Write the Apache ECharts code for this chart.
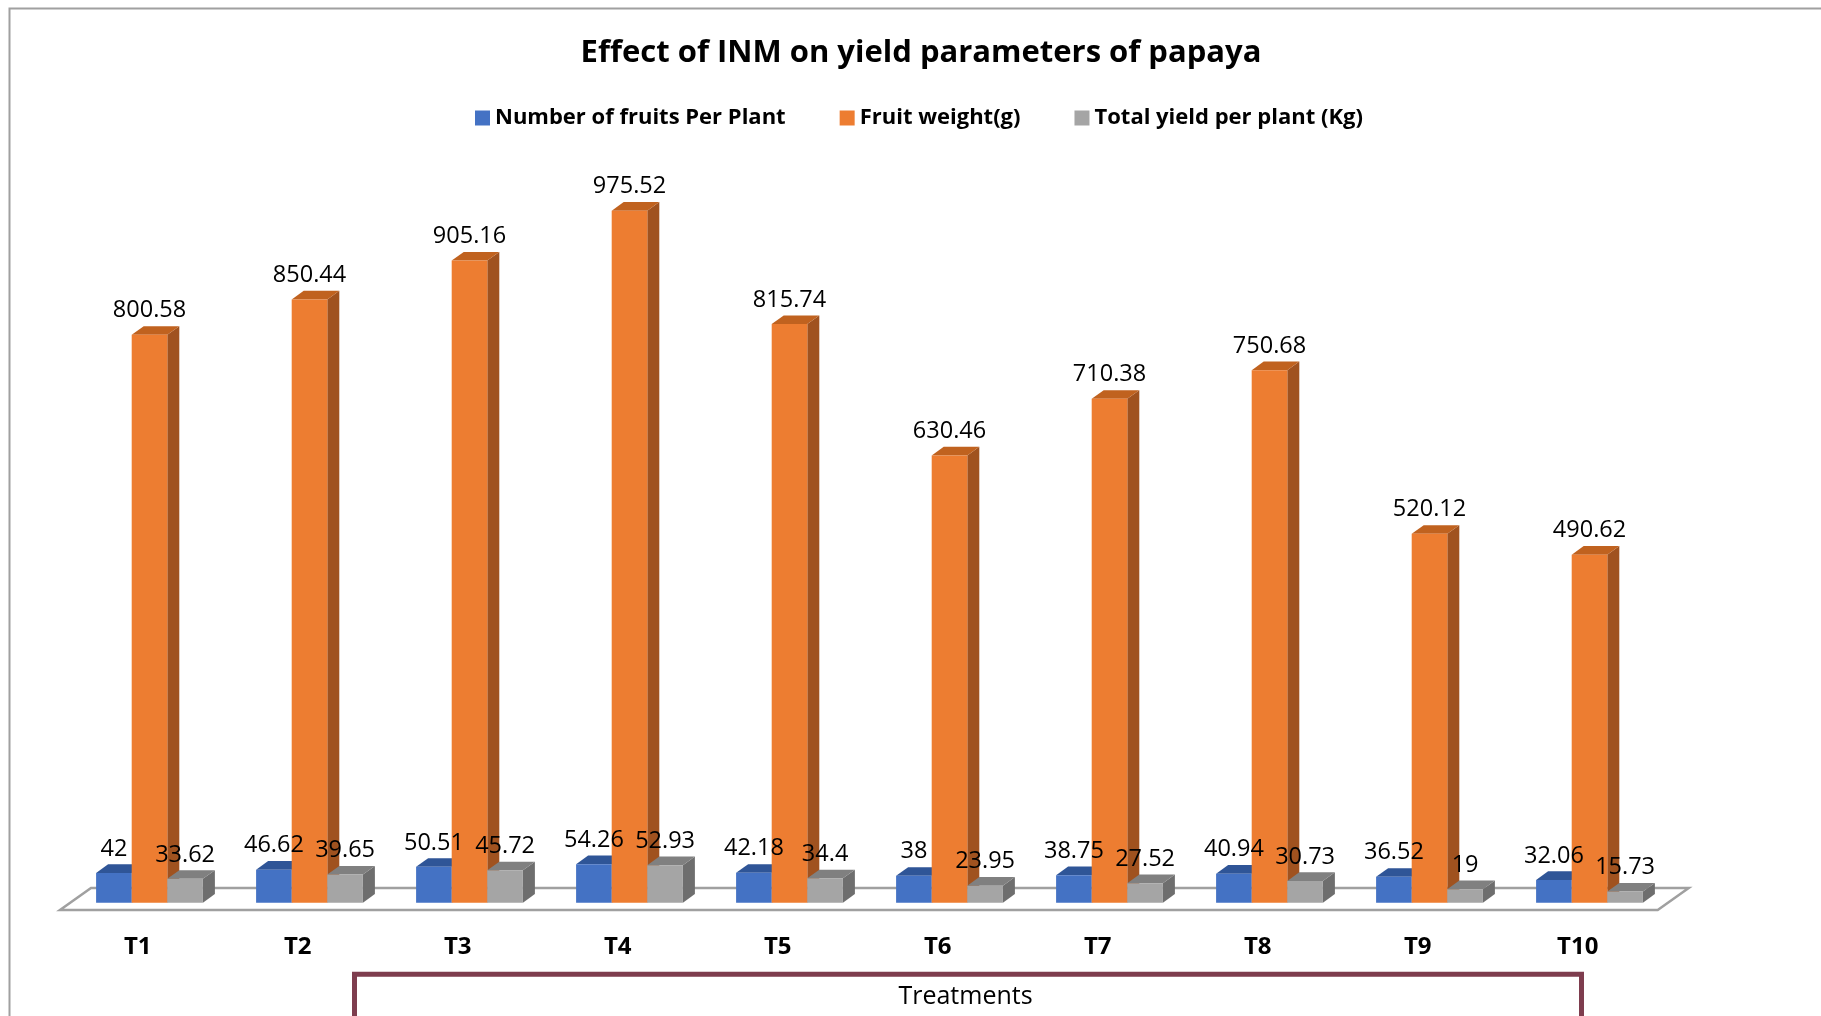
<!DOCTYPE html>
<html>
<head>
<meta charset="utf-8">
<script src="https://cdn.jsdelivr.net/npm/echarts@6/dist/echarts.min.js"></script>
<style>
html,body{margin:0;padding:0;background:#fff;}
#chart{width:1821px;height:1016px;}
</style>
</head>
<body>
<div id="chart"></div>
<script>
const categories = ['T1','T2','T3','T4','T5','T6','T7','T8','T9','T10'];
const fruitsPerPlant = [42, 46.62, 50.51, 54.26, 42.18, 38, 38.75, 40.94, 36.52, 32.06];
const fruitWeight = [800.58, 850.44, 905.16, 975.52, 815.74, 630.46, 710.38, 750.68, 520.12, 490.62];
const totalYield = [33.62, 39.65, 45.72, 52.93, 34.4, 23.95, 27.52, 30.73, 19, 15.73];
const seriesNames = ['Number of fruits Per Plant', 'Fruit weight(g)', 'Total yield per plant (Kg)'];
const axisTitle = 'Treatments';

const FONT = '"Open Sans", "Noto Sans", sans-serif';
const palette = [
  {front:'#4472C4', top:'#2F5597', side:'#2F528F'},
  {front:'#ED7D31', top:'#C0621F', side:'#A0521F'},
  {front:'#A5A5A5', top:'#808080', side:'#6E6E6E'}
];
const DX = 12, DY = -8.6;

function makeBarRender(si){
  return function(params, api){
    const idx = api.value(0), val = api.value(1);
    const base = api.coord([idx, 0]);
    const top = api.coord([idx, val]);
    const band = api.size([1, 0])[0];
    const w = band * 0.2225;
    const cx = base[0] + band * (11.8/160) + (si - 1) * w;
    const x0 = cx - w/2, x1 = cx + w/2;
    const yb = base[1], yt = top[1];
    const c = palette[si];
    return {
      type:'group',
      children:[
        {type:'polygon', z2: si*10, shape:{points:[[x1,yt],[x1+DX,yt+DY],[x1+DX,yb+DY],[x1,yb]]}, style:{fill:c.side}},
        {type:'polygon', z2: si*10+1, shape:{points:[[x0,yt],[x0+DX,yt+DY],[x1+DX,yt+DY],[x1,yt]]}, style:{fill:c.top}},
        {type:'rect', z2: si*10+2, shape:{x:x0, y:yt, width:w, height:yb-yt}, style:{fill:c.front}},
        {type:'text', z2: 100, style:{text:String(val), x:cx, y:yt-24, textAlign:'center', textVerticalAlign:'middle', fontSize:23.5, fontFamily:FONT, fill:'#000'}}
      ]
    };
  };
}

function floorRender(params, api){
  const first = api.coord([0, 0]);
  const band = api.size([1, 0])[0];
  const n = categories.length;
  const left = first[0] - band/2 + 2.3;
  const right = first[0] + (n - 0.5) * band;
  const yf = first[1] + 7.3;
  const bx = 31, by = -22;
  return {
    type:'polygon',
    shape:{points:[[left,yf],[right,yf],[right+bx,yf+by],[left+bx,yf+by]]},
    style:{fill:'#fff', stroke:'#A0A0A0', lineWidth:2.5}
  };
}

const seriesData = [fruitsPerPlant, fruitWeight, totalYield];

const chart = echarts.init(document.getElementById('chart'), null, {renderer:'canvas'});
const series = [{
  type:'custom', name:'floor', z:1, silent:true,
  renderItem: floorRender,
  data:[[0,0]]
}];
seriesData.forEach((arr, si) => {
  series.push({
    type:'custom', name: seriesNames[si], z:2,
    itemStyle:{color: palette[si].front},
    renderItem: makeBarRender(si),
    encode:{x:0, y:1},
    data: arr.map((v, i) => [i, v])
  });
});

chart.setOption({
  animation:false,
  backgroundColor:'#fff',
  title:{
    text:'Effect of INM on yield parameters of papaya',
    left:916, textAlign:'center', top:29,
    textStyle:{fontFamily:FONT, fontWeight:'bold', fontSize:31, lineHeight:38, color:'#000'}
  },
  legend:{
    data: seriesNames,
    left:470, top:102,
    icon:'rect', itemWidth:15, itemHeight:15, itemGap:54,
    textStyle:{fontFamily:FONT, fontWeight:'bold', fontSize:22, lineHeight:22, color:'#000'}
  },
  grid:{left:57.7, right:163.3, top:193.3, bottom:113.3},
  xAxis:{
    type:'category', data:categories,
    axisLine:{show:false}, axisTick:{show:false},
    axisLabel:{fontFamily:FONT, fontWeight:'bold', fontSize:24, lineHeight:28, color:'#000', margin:30}
  },
  yAxis:{type:'value', min:0, max:1000, show:false, splitLine:{show:false}},
  graphic:[
    {type:'rect', left:7, top:6, shape:{x:0,y:0,width:2000,height:2000}, style:{fill:'none', stroke:'#A0A0A0', lineWidth:2}, silent:true, z:-1},
    {type:'rect', left:352, top:971.7, shape:{x:0,y:0,width:1227,height:200}, style:{fill:'none', stroke:'#7E3D4E', lineWidth:5}, silent:true},
    {type:'text', x:965.5, y:997, style:{text:axisTitle, textAlign:'center', textVerticalAlign:'middle', fontFamily:FONT, fontSize:25, fill:'#000'}, silent:true}
  ],
  series: series
});
</script>
</body>
</html>
